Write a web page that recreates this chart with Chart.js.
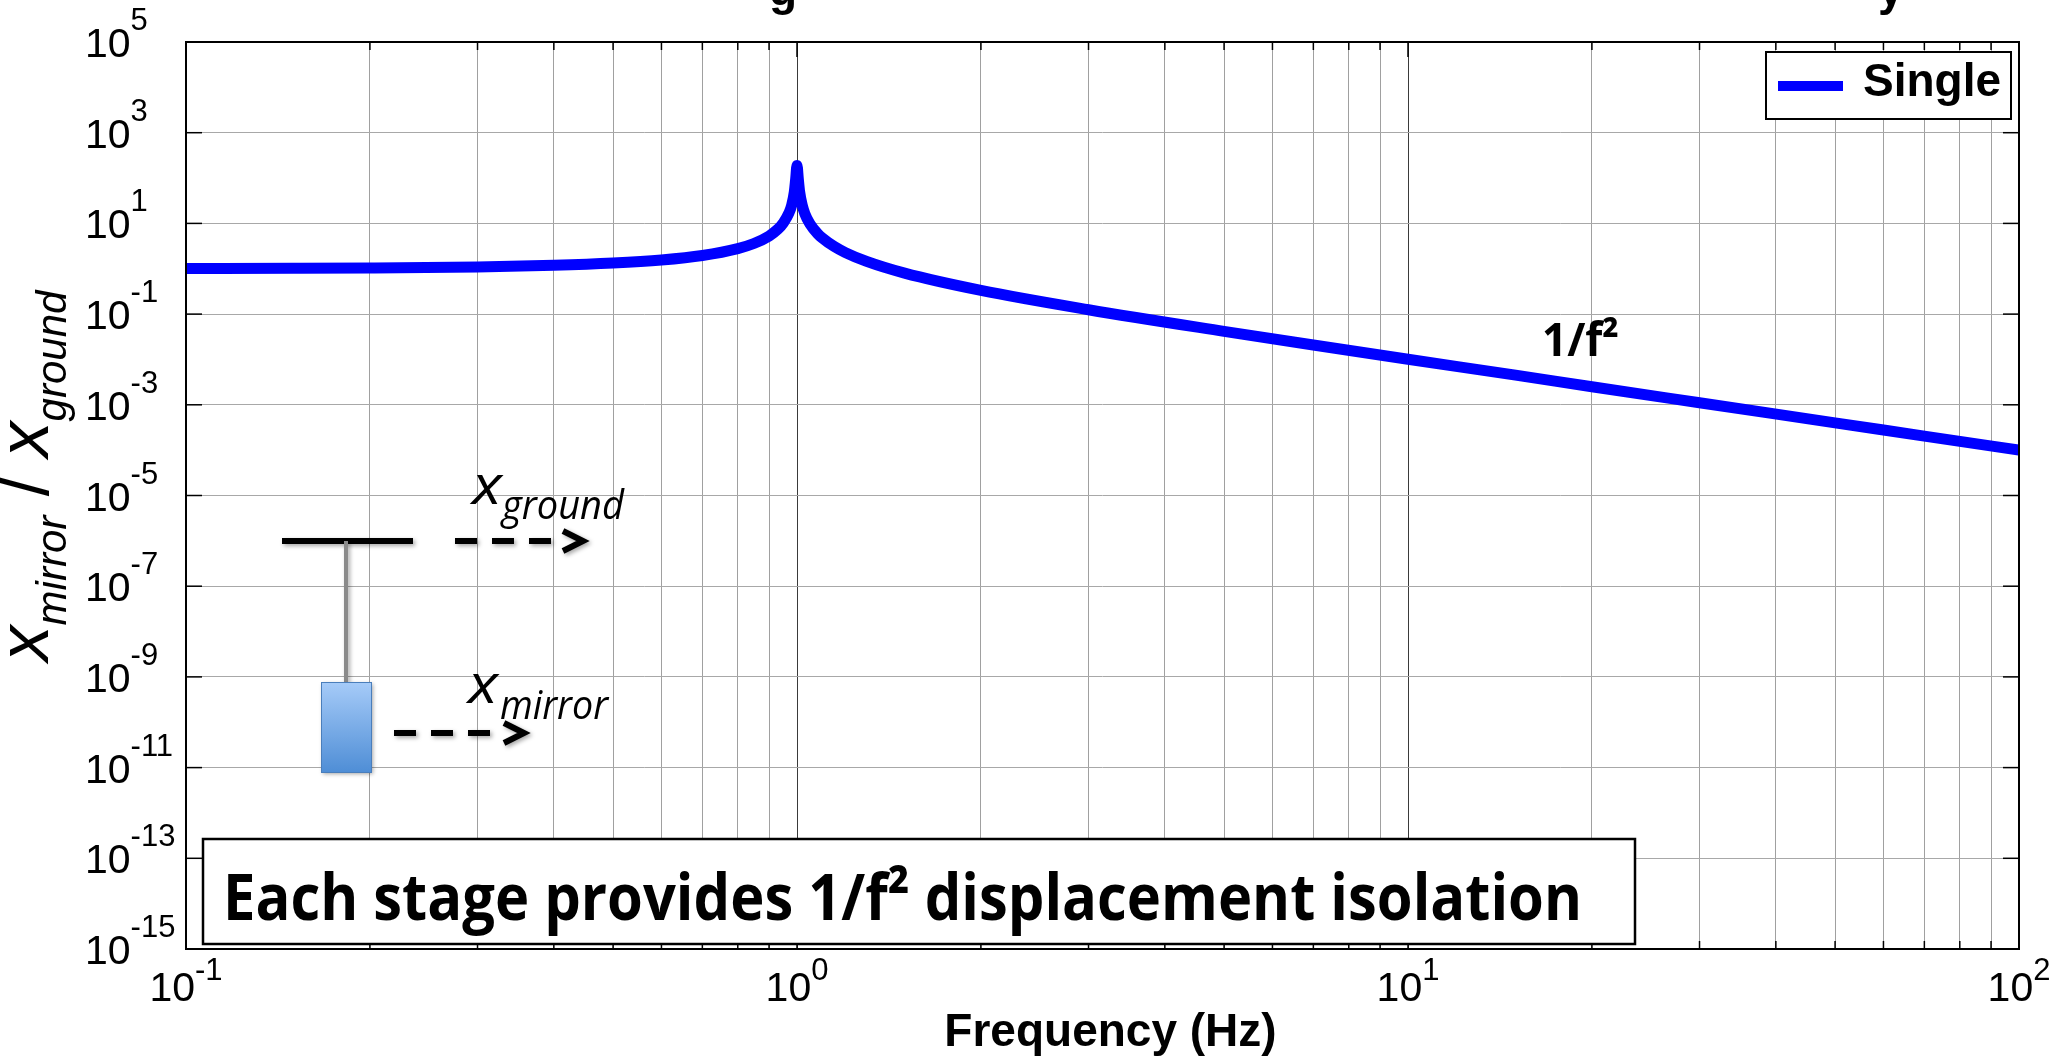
<!DOCTYPE html>
<html>
<head>
<meta charset="utf-8">
<script src="https://cdn.jsdelivr.net/npm/chart.js@4.4.1/dist/chart.umd.min.js"></script>
<style>
  html, body { margin: 0; padding: 0; background: #fff; }
  #wrap { width: 2065px; height: 1057px; position: relative; }
</style>
</head>
<body>
<div id="wrap"><canvas id="myChart"></canvas></div>
<script>
// frequency (Hz)
const freqHz = [0.1, 0.15, 0.2, 0.3, 0.4, 0.5, 0.6, 0.7, 0.8, 0.85, 0.9, 0.93, 0.95, 0.97, 0.98, 0.99, 0.995, 1.0,
  1.005, 1.01, 1.02, 1.03, 1.05, 1.08, 1.1, 1.15, 1.2, 1.3, 1.5, 2, 3, 5, 7, 10, 15, 20, 30, 50, 70, 100];
// x_mirror / x_ground
const singleRatio = [1.01, 1.023, 1.042, 1.099, 1.19, 1.333, 1.56, 1.96, 2.78, 3.6, 5.26, 7.4, 10.3, 16.9, 25, 50, 95, 190,
  95, 50, 25, 16.4, 9.76, 6.0, 4.76, 3.1, 2.27, 1.45, 0.8, 0.333, 0.125, 0.0417, 0.0208, 0.0101, 0.0045, 0.0025, 0.00111, 0.0004, 0.000204, 0.0001];

// grid / tick positions
const xGrid = [0.1, 0.2, 0.3, 0.4, 0.5, 0.6, 0.7, 0.8, 0.9, 1, 2, 3, 4, 5, 6, 7, 8, 9, 10, 20, 30, 40, 50, 60, 70, 80, 90, 100];
const xMajor = [0.1, 1, 10, 100];
const xLabelExp = [-1, 0, 1, 2];
const yLabelExp = [5, 3, 1, -1, -3, -5, -7, -9, -11, -13, -15];

const MAT = '"Liberation Sans", Arial, Helvetica, sans-serif';
const CAL = '"Open Sans", "Noto Sans", sans-serif';

function line(ctx, x0, y0, x1, y1) {
  ctx.beginPath(); ctx.moveTo(x0, y0); ctx.lineTo(x1, y1); ctx.stroke();
}

// 幅を合わせて文字を描く
function fitText(ctx, txt, x, y, w) {
  const m = ctx.measureText(txt).width;
  ctx.save();
  ctx.translate(x, y);
  ctx.scale(w / m, 1);
  ctx.fillText(txt, 0, 0);
  ctx.restore();
}

function dashedArrow(ctx, x0, x1, yy) {
  ctx.lineWidth = 6;
  ctx.lineCap = 'butt';
  ctx.setLineDash([22, 15]);
  line(ctx, x0, yy, x1 - 32, yy);
  ctx.setLineDash([]);
  ctx.lineJoin = 'miter';
  ctx.beginPath();
  ctx.moveTo(x1 - 20, yy - 10); ctx.lineTo(x1, yy); ctx.lineTo(x1 - 20, yy + 10);
  ctx.stroke();
}

const overlay = {
  id: 'overlay',
  afterDatasetsDraw(chart) {
    const {ctx, chartArea: a, scales: {x, y}} = chart;
    ctx.save();

    // frame and ticks
    ctx.strokeStyle = '#000';
    ctx.lineWidth = 2;
    ctx.strokeRect(a.left, a.top, a.right - a.left, a.bottom - a.top);
    ctx.lineWidth = 1.5;
    xGrid.forEach(v => {
      const px = x.getPixelForValue(v);
      const len = xMajor.includes(v) ? 15 : 8;
      line(ctx, px, a.bottom, px, a.bottom - len);
      line(ctx, px, a.top, px, a.top + len);
    });
    yLabelExp.forEach(e => {
      const py = y.getPixelForValue(Math.pow(10, e));
      line(ctx, a.left, py, a.left + 16, py);
      line(ctx, a.right, py, a.right - 16, py);
    });

    // tick labels
    ctx.fillStyle = '#000';
    ctx.textAlign = 'left';
    ctx.textBaseline = 'alphabetic';
    yLabelExp.forEach(e => {
      const py = y.getPixelForValue(Math.pow(10, e));
      ctx.font = '41px ' + MAT;
      ctx.fillText('10', 85, py + 15);
      const w = ctx.measureText('10').width;
      ctx.font = '31px ' + MAT;
      ctx.fillText(String(e), 85 + w, py - 12);
    });
    xLabelExp.forEach(e => {
      const px = x.getPixelForValue(Math.pow(10, e));
      ctx.font = '41px ' + MAT;
      const w1 = ctx.measureText('10').width;
      ctx.font = '31px ' + MAT;
      const w2 = ctx.measureText(String(e)).width;
      const s = px - (w1 + w2) / 2;
      ctx.font = '41px ' + MAT;
      ctx.fillText('10', s, a.bottom + 52);
      ctx.font = '31px ' + MAT;
      ctx.fillText(String(e), s + w1, a.bottom + 31);
    });

    // axis titles
    ctx.font = 'bold 46px ' + MAT;
    ctx.textAlign = 'center';
    ctx.fillText('Frequency (Hz)', (a.left + a.right) / 2 + 8, 1046);

    ctx.save();
    ctx.translate(48, 476);
    ctx.rotate(-Math.PI / 2);
    ctx.textAlign = 'left';
    const parts = [
      ['x', 'italic 72px ', 0], ['mirror', 'italic 42px ', 18], [' / ', '70px ', 0],
      ['x', 'italic 72px ', 0], ['ground', 'italic 42px ', 18]
    ];
    let total = 0;
    parts.forEach(p => { ctx.font = p[1] + MAT; total += ctx.measureText(p[0]).width; });
    let cx = -total / 2;
    parts.forEach(p => {
      ctx.font = p[1] + MAT;
      ctx.fillText(p[0], cx, p[2]);
      cx += ctx.measureText(p[0]).width;
    });
    ctx.restore();

    // legend
    const lx = a.right - 253, ly = a.top + 10;
    ctx.fillStyle = '#fff';
    ctx.fillRect(lx, ly, 245, 67);
    ctx.lineWidth = 2;
    ctx.strokeRect(lx, ly, 245, 67);
    ctx.strokeStyle = '#0000ff';
    ctx.lineWidth = 10;
    line(ctx, lx + 12, ly + 34, lx + 77, ly + 34);
    ctx.fillStyle = '#000';
    ctx.font = 'bold 46px ' + MAT;
    ctx.textAlign = 'left';
    ctx.fillText('Single', lx + 97, ly + 44);

    // 1/f^2 label
    ctx.font = 'bold 46px ' + CAL;
    fitText(ctx, '1/f²', 1542, 356, 77);

    // inset: pendulum sketch
    ctx.save();
    ctx.shadowColor = 'rgba(0,0,0,0.35)';
    ctx.shadowBlur = 4;
    ctx.shadowOffsetX = 2;
    ctx.shadowOffsetY = 2;
    ctx.strokeStyle = '#000';
    ctx.lineWidth = 6;
    line(ctx, 282, 541, 413, 541);
    dashedArrow(ctx, 455, 583, 541);
    dashedArrow(ctx, 394, 524, 733);
    ctx.strokeStyle = '#8a8a8a';
    ctx.lineWidth = 4;
    line(ctx, 346, 541, 346, 682);
    const g = ctx.createLinearGradient(0, 682, 0, 772);
    g.addColorStop(0, '#a6cbf8');
    g.addColorStop(1, '#4f8ed6');
    ctx.fillStyle = g;
    ctx.fillRect(321, 682, 50, 90);
    ctx.restore();
    ctx.strokeStyle = '#4a7ebb';
    ctx.lineWidth = 1;
    ctx.strokeRect(321.5, 682.5, 50, 90);

    ctx.fillStyle = '#000';
    ctx.textAlign = 'left';
    ctx.font = 'italic 54px ' + CAL;
    fitText(ctx, 'x', 472, 504, 30);
    fitText(ctx, 'x', 468, 703, 30);
    ctx.font = 'italic 41px ' + CAL;
    fitText(ctx, 'ground', 502, 519, 122);
    fitText(ctx, 'mirror', 500, 719, 108);

    // text box
    ctx.fillStyle = '#fff';
    ctx.fillRect(203, 839, 1432, 105);
    ctx.strokeStyle = '#000';
    ctx.lineWidth = 2.5;
    ctx.strokeRect(203, 839, 1432, 105);
    ctx.fillStyle = '#000';
    ctx.font = 'bold 65px ' + CAL;
    fitText(ctx, 'Each stage provides 1/f² displacement isolation', 223, 920, 1359);

    // cut-off title (only descenders visible)
    ctx.font = 'bold 46px ' + MAT;
    ctx.fillText('g', 769, 5);
    ctx.fillText('y', 1878, 5);

    ctx.restore();
  }
};

const elem = document.getElementById('myChart');
const chart = new Chart(elem, {
  type: 'line',
  data: {
    datasets: [{
      label: 'Single',
      data: freqHz.map((f, i) => ({x: f, y: singleRatio[i]})),
      borderColor: '#0000ff',
      borderWidth: 11,
      pointRadius: 0,
      cubicInterpolationMode: 'monotone',
      borderCapStyle: 'round',
      borderJoinStyle: 'round',
      fill: false
    }]
  },
  options: {
    responsive: true,
    maintainAspectRatio: false,
    animation: false,
    events: [],
    layout: { padding: { left: 186, top: 42, right: 46, bottom: 108 } },
    plugins: { legend: { display: false }, tooltip: { enabled: false } },
    scales: {
      x: {
        type: 'logarithmic', min: 0.1, max: 100,
        afterBuildTicks: s => { s.ticks = xGrid.map(v => ({value: v})); },
        ticks: { display: false },
        border: { display: false },
        grid: {
          drawTicks: false,
          lineWidth: 1,
          color: c => (c.tick && (c.tick.value === 1 || c.tick.value === 10)) ? '#3a3a3a' : '#a0a0a0'
        }
      },
      y: {
        type: 'logarithmic', min: 1e-15, max: 1e5,
        afterBuildTicks: s => { s.ticks = yLabelExp.map(e => ({value: Math.pow(10, e)})); },
        ticks: { display: false },
        border: { display: false },
        grid: { drawTicks: false, lineWidth: 1, color: '#a8a8a8' }
      }
    }
  },
  plugins: [overlay]
});
</script>
</body>
</html>
